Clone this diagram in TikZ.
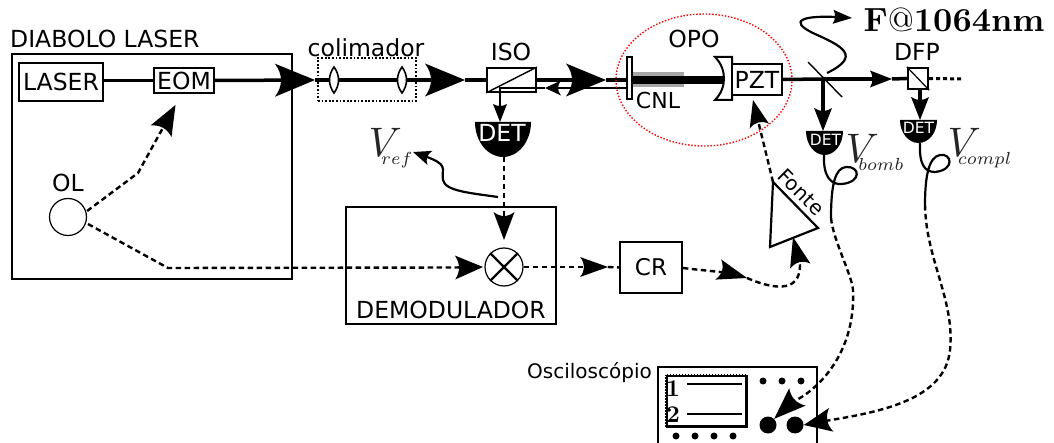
\documentclass[tikz,border=0pt]{standalone}
\usepackage[no-math]{fontspec}
\setmainfont{DejaVu Sans}
\usetikzlibrary{arrows.meta,shapes.geometric,calc}
\pgfdeclarearrow{
  name=Dart,
  parameters={\the\pgfarrowlength,\the\pgfarrowwidth,\the\pgfarrowinset},
  setup code={
    \pgfarrowssettipend{\pgfarrowlength}
    \pgfarrowssetlineend{.4\pgfarrowlength}
    \pgfarrowssetbackend{0pt}
    \pgfarrowssetvisualbackend{.2\pgfarrowlength}
    \pgfarrowshullpoint{\pgfarrowlength}{0pt}
    \pgfarrowsupperhullpoint{0pt}{.5\pgfarrowwidth}
    \pgfarrowssavethe\pgfarrowlength
    \pgfarrowssavethe\pgfarrowwidth
    \pgfarrowssavethe\pgfarrowinset
  },
  drawing code={
    \pgfpathmoveto{\pgfqpoint{\pgfarrowlength}{0pt}}
    \pgfpathlineto{\pgfqpoint{0pt}{.5\pgfarrowwidth}}
    \pgfpathquadraticcurveto{\pgfqpoint{2\pgfarrowinset}{0pt}}{\pgfqpoint{0pt}{-.5\pgfarrowwidth}}
    \pgfpathclose
    \pgfusepathqfill
  },
  defaults={length=10pt,width=8pt,inset=2pt}
}
\tikzset{
  lbl/.style={inner sep=0pt,font=\fontsize{23.5}{26}\selectfont},
  boxa/.style={draw,line width=1.8pt,fill=white,inner sep=0pt,font=\fontsize{23.5}{26}\selectfont},
  beam/.style={line width=3.5pt,line cap=butt},
  thinbeam/.style={line width=2.6pt},
  dashline/.style={line width=2.4pt,dash pattern=on 5.5pt off 3.5pt},
  curve/.style={line width=2.2pt},
  bigtip/.style={-{Dart[length=40pt,width=33pt,inset=6pt]}},
  midtip/.style={-{Dart[length=22pt,width=17pt,inset=2.5pt]}},
  smalltip/.style={-{Dart[length=23pt,width=18pt,inset=3pt]}},
  dettip/.style={-{Dart[length=18pt,width=14pt,inset=2pt]}},
  dettxt/.style={inner sep=0pt,text=white},
  vlbl/.style={inner sep=0pt,scale=2.5,text=black!85,anchor=base west},
  dot/.style={circle,fill=black,inner sep=0pt},
  lens/.pic={\draw[line width=1.6pt,fill=white] (0,-13) .. controls (-6,-5) and (-6,5) .. (0,13) .. controls (6,5) and (6,-5) .. (0,-13) -- cycle;}
}
\newcommand{\bigV}{\scalebox{1.65}{$V$}}
\newcommand{\Vsub}[2]{$\bigV_{\mkern-#1mu\lower1.5pt\hbox{$\scriptstyle #2$}}$}
\begin{document}
\begin{tikzpicture}[x=1pt,y=-1pt]
\useasboundingbox (0,0) rectangle (1054,443);
% frames
\node[draw,line width=1.8pt,minimum width=280pt,minimum height=225pt,inner sep=0pt] (diabolo) at (152,166.5) {};
\node[lbl,anchor=west] (diabolotxt) at (10,39) {DIABOLO LASER};
\node[boxa,minimum width=84pt,minimum height=38pt] (laser) at (61,82) {LASER};
\node[boxa,minimum width=60pt,minimum height=25pt] (eom) at (184,80.5) {EOM};
\node[draw,line width=1.8pt,dash pattern=on 1.8pt off 1.8pt,minimum width=98pt,minimum height=43pt,inner sep=0pt] (colim) at (367,79.5) {};
\node[lbl,anchor=center] (colimtxt) at (366,48) {colimador};
\node[lbl] (isotxt) at (511,52) {ISO};
\node[boxa,minimum width=49pt,minimum height=24pt] (iso) at (511.5,80) {};
\draw[line width=1.4pt] (iso.south west) -- (iso.north east);
% beam
\coordinate (tipA) at (315,80);
\coordinate (tipB) at (465,80);
\coordinate (tipC) at (606,80);
\coordinate (tipD) at (892,79);
\draw[beam] (laser.east|-eom) -- (eom.west);
\draw[beam,bigtip] (eom.east) -- (tipA);
\draw[beam,bigtip] (tipA) -- (tipB);
\draw[beam] (tipB) -- (iso.west);
\pic at (334,80) {lens};
\pic at (402,80) {lens};
% DET main
\fill (475,122) -- (531,122) arc[start angle=0,end angle=180,x radius=28,y radius=35] -- cycle;
\node[dettxt,font=\fontsize{23.5}{26}\selectfont] (det) at (502,133) {DET};
\coordinate (detin) at (500,122);
\coordinate (detout) at (504,157);
% OPO
\coordinate (retstart) at (626,88);
\coordinate (retcorner) at (500,88);
\coordinate (rettip) at (545,88);
\draw[beam,bigtip] (iso.east) -- (tipC);
\draw[beam] (tipC) -- (626,80);
\draw[thinbeam,-{Dart[length=16pt,width=15pt,inset=3pt]}] (retstart) -- (rettip);
\draw[thinbeam,dettip] (rettip) -- (retcorner) -- (detin);
\fill[black!35] (632,72) rectangle (684,87);
\fill (632,76) rectangle (725,84);
\node[draw,line width=2pt,fill=white,minimum width=5pt,minimum height=42pt,inner sep=0pt] (inmirror) at (629,78.5) {};
\draw[line width=2pt,fill=white] (715,57) -- (732,57) -- (732,100) -- (715,100) .. controls (727,88) and (727,69) .. (715,57) -- cycle;
\node[draw,line width=2pt,fill=white,minimum width=50pt,minimum height=31pt,inner sep=0pt,font=\fontsize{23.5}{26}\selectfont] (pzt) at (757,79.5) {PZT};
\node[lbl,font=\fontsize{22}{24}\selectfont] (cnl) at (658,100) {CNL};
\node[lbl] (opo) at (694,39) {OPO};
\node[draw=red,ellipse,line width=1.4pt,dash pattern=on 1.4pt off 1.8pt,minimum width=176pt,minimum height=132pt,inner sep=0pt] (opoe) at (704,80) {};
% after OPO
\coordinate (bs) at (823,79);
\node[draw,line width=2.4pt,minimum width=20pt,minimum height=21pt,inner sep=0pt] (dfp) at (918,78.5) {};
\draw[line width=1.2pt] (dfp.north west) -- (dfp.south east);
\node[lbl] (dfptxt) at (917,52) {DFP};
\draw[beam] (pzt.east) -- (bs);
\draw[beam,midtip] (bs) -- (tipD);
\draw[beam] (tipD) -- (dfp.west);
\draw[line width=1.4pt] (808,62) -- (842,97);
\coordinate (dotend) at (964,79);
\draw[line width=3pt,dash pattern=on 4pt off 3pt] (dfp.east) -- (dotend);
% small DETs
\fill (806,131) -- (843,131) arc[start angle=0,end angle=180,x radius=18.5,y radius=24] -- cycle;
\node[dettxt,font=\fontsize{15.5}{17}\selectfont] (detb) at (825.5,139.5) {DET};
\fill (900,120) -- (937,120) arc[start angle=0,end angle=180,x radius=18.5,y radius=23] -- cycle;
\node[dettxt,font=\fontsize{15.5}{17}\selectfont] (detc) at (918.5,127.5) {DET};
\coordinate (detbin) at (823,131);
\coordinate (detcin) at (920,120);
\draw[beam,smalltip] (bs) -- (detbin);
\draw[beam,smalltip] (dfp.south-|detcin) -- (detcin);
% F label
\node[inner sep=0pt,scale=3.35,anchor=west] (ftxt) at (863,20) {$\mathbf{F@1064nm}$};
\coordinate (fs) at (827,73);
\draw[curve,-{Dart[length=19pt,width=14pt,inset=2pt]}] (fs) .. controls (862,56) and (842,46) .. (815,34) .. controls (785,20) and (805,15) .. (852,18);
% Vs
\node[vlbl] (vref) at (368,157) {\Vsub{18}{ref}};
\node[vlbl] (vbomb) at (845,163) {\Vsub{18}{bomb}};
\node[vlbl] (vcompl) at (947,157) {\Vsub{20}{compl}};
% OL
\node[draw,circle,line width=1.2pt,minimum size=37pt,inner sep=0pt] (ol) at (68,217) {};
\node[lbl] (oltxt) at (68,183) {OL};
\coordinate (olup) at (138,173);
\coordinate (eomtip) at (175.5,105);
\draw[dashline,-{Dart[length=30pt,width=24pt,inset=4pt]}] (ol.east|-0,211) -- (olup) -- (eomtip);
% demodulator
\node[draw,line width=1.8pt,minimum width=210pt,minimum height=117pt,inner sep=0pt] (demod) at (451,265.5) {};
\node[lbl] (demodtxt) at (451,309.5) {DEMODULADOR};
\node[draw,circle,line width=1.2pt,minimum size=38pt,inner sep=0pt] (mix) at (504,267) {};
\draw[line width=2.2pt] (mix.north west) -- (mix.south east) (mix.north east) -- (mix.south west);
\coordinate (olcorner) at (168,268);
\coordinate (mixtip) at (483,267);
\coordinate (mixtop) at (504,240);
\draw[dashline] (88,224) -- (olcorner) -- (455,267.5);
\draw[dashline,-{Dart[length=28pt,width=24pt,inset=4pt]}] (455,267.5) -- (mixtip);
\draw[dashline,-{Dart[length=28pt,width=21pt,inset=4pt]}] (detout) -- (mixtop);
% Vref curve
\coordinate (vrefs) at (498,197);
\coordinate (vreft) at (413,152);
\draw[curve,-{Dart[length=18pt,width=15pt,inset=3pt]}] (vrefs) .. controls (470,193) and (445,191) .. (443,180) .. controls (441,168) and (450,165) .. (vreft);
% CR
\node[draw,line width=1.8pt,minimum width=62pt,minimum height=51pt,inner sep=0pt,font=\fontsize{23}{26}\selectfont] (cr) at (651,267.5) {CR};
\coordinate (crtip) at (608,267);
\draw[dashline,-{Dart[length=28pt,width=20pt,inset=4pt]}] (mix.east) -- (crtip);
\draw[dashline] (crtip) -- (cr.west);
% Fonte
\coordinate (ta) at (773,182);
\coordinate (tb) at (818,228);
\coordinate (tc) at (770,247);
\draw[line width=2.2pt,line join=miter,fill=white] (ta) -- (tb) -- (tc) -- cycle;
\node[inner sep=0pt,rotate=-45,font=\fontsize{20}{22}\selectfont] (fonte) at (801,192) {Fonte};
\coordinate (pzttip) at (753,100);
\draw[dashline,-{Dart[length=27pt,width=20pt,inset=4pt]}] (ta) -- (pzttip);
\coordinate (crm) at (747,278);
\coordinate (fontetip) at (793,237);
\draw[dashline,-{Dart[length=30pt,width=21pt,inset=4pt]}] (cr.east|-0,268) .. controls (700,270) and (730,273) .. (crm);
\draw[dashline,-{Dart[length=30pt,width=21pt,inset=4pt]}] (crm) .. controls (770,288) and (800,295) .. (800,265) -- (fontetip);
% oscilloscope
\node[inner sep=0pt,anchor=east,font=\fontsize{20}{22}\selectfont] (osctxt) at (652,373) {Oscilosc\'opio};
\draw[line width=2pt] (658,443) -- (658,367) -- (817,367) -- (817,443);
\node[draw,line width=3pt,minimum width=80pt,minimum height=51pt,inner sep=0pt] (screen) at (706.5,401) {};
\draw[white,line width=1pt,dash pattern=on 1.5pt off 1.5pt] (screen.south west) rectangle (screen.north east);
\node[inner sep=0pt,scale=2.4] (one) at (673,389) {$\mathbf{1}$};
\node[inner sep=0pt,scale=2.4] (two) at (673,415) {$\mathbf{2}$};
\draw[line width=1.5pt] (687,384) -- (742,384) (687,414) -- (742,414);
\foreach \n/\x in {a/763,b/782,c/801} \node[dot,minimum size=7pt] (s\n) at (\x,381) {};
\foreach \n/\x in {a/676,b/695,c/714,d/733} \node[dot,minimum size=7pt] (u\n) at (\x,436) {};
\node[dot,minimum size=17pt] (k1) at (768,425) {};
\node[dot,minimum size=17pt] (k2) at (795,425) {};
% signal curves
\coordinate (bjoin) at (831,218);
\coordinate (cjoin) at (925,205);
\draw[curve] (824,155) .. controls (823,178) and (832,185) .. (842,184) .. controls (862,182) and (860,166) .. (846,167) .. controls (835,168) and (831,185) .. (bjoin);
\draw[curve] (920,143) .. controls (919,165) and (925,172) .. (935,172) .. controls (955,170) and (952,153) .. (940,155) .. controls (929,157) and (925,175) .. (cjoin);
\draw[dashline,-{Dart[length=32pt,width=24pt,inset=4pt]}] (bjoin) .. controls (833,240) and (852,275) .. (853,290) .. controls (856,360) and (810,395) .. (792,402) -- (k1.north east);
\draw[dashline,-{Dart[length=28pt,width=24pt,inset=4pt]}] (cjoin) .. controls (926,260) and (955,300) .. (950,350) .. controls (945,400) and (880,412) .. (825,421) -- (k2.east);
\end{tikzpicture}
\end{document}
